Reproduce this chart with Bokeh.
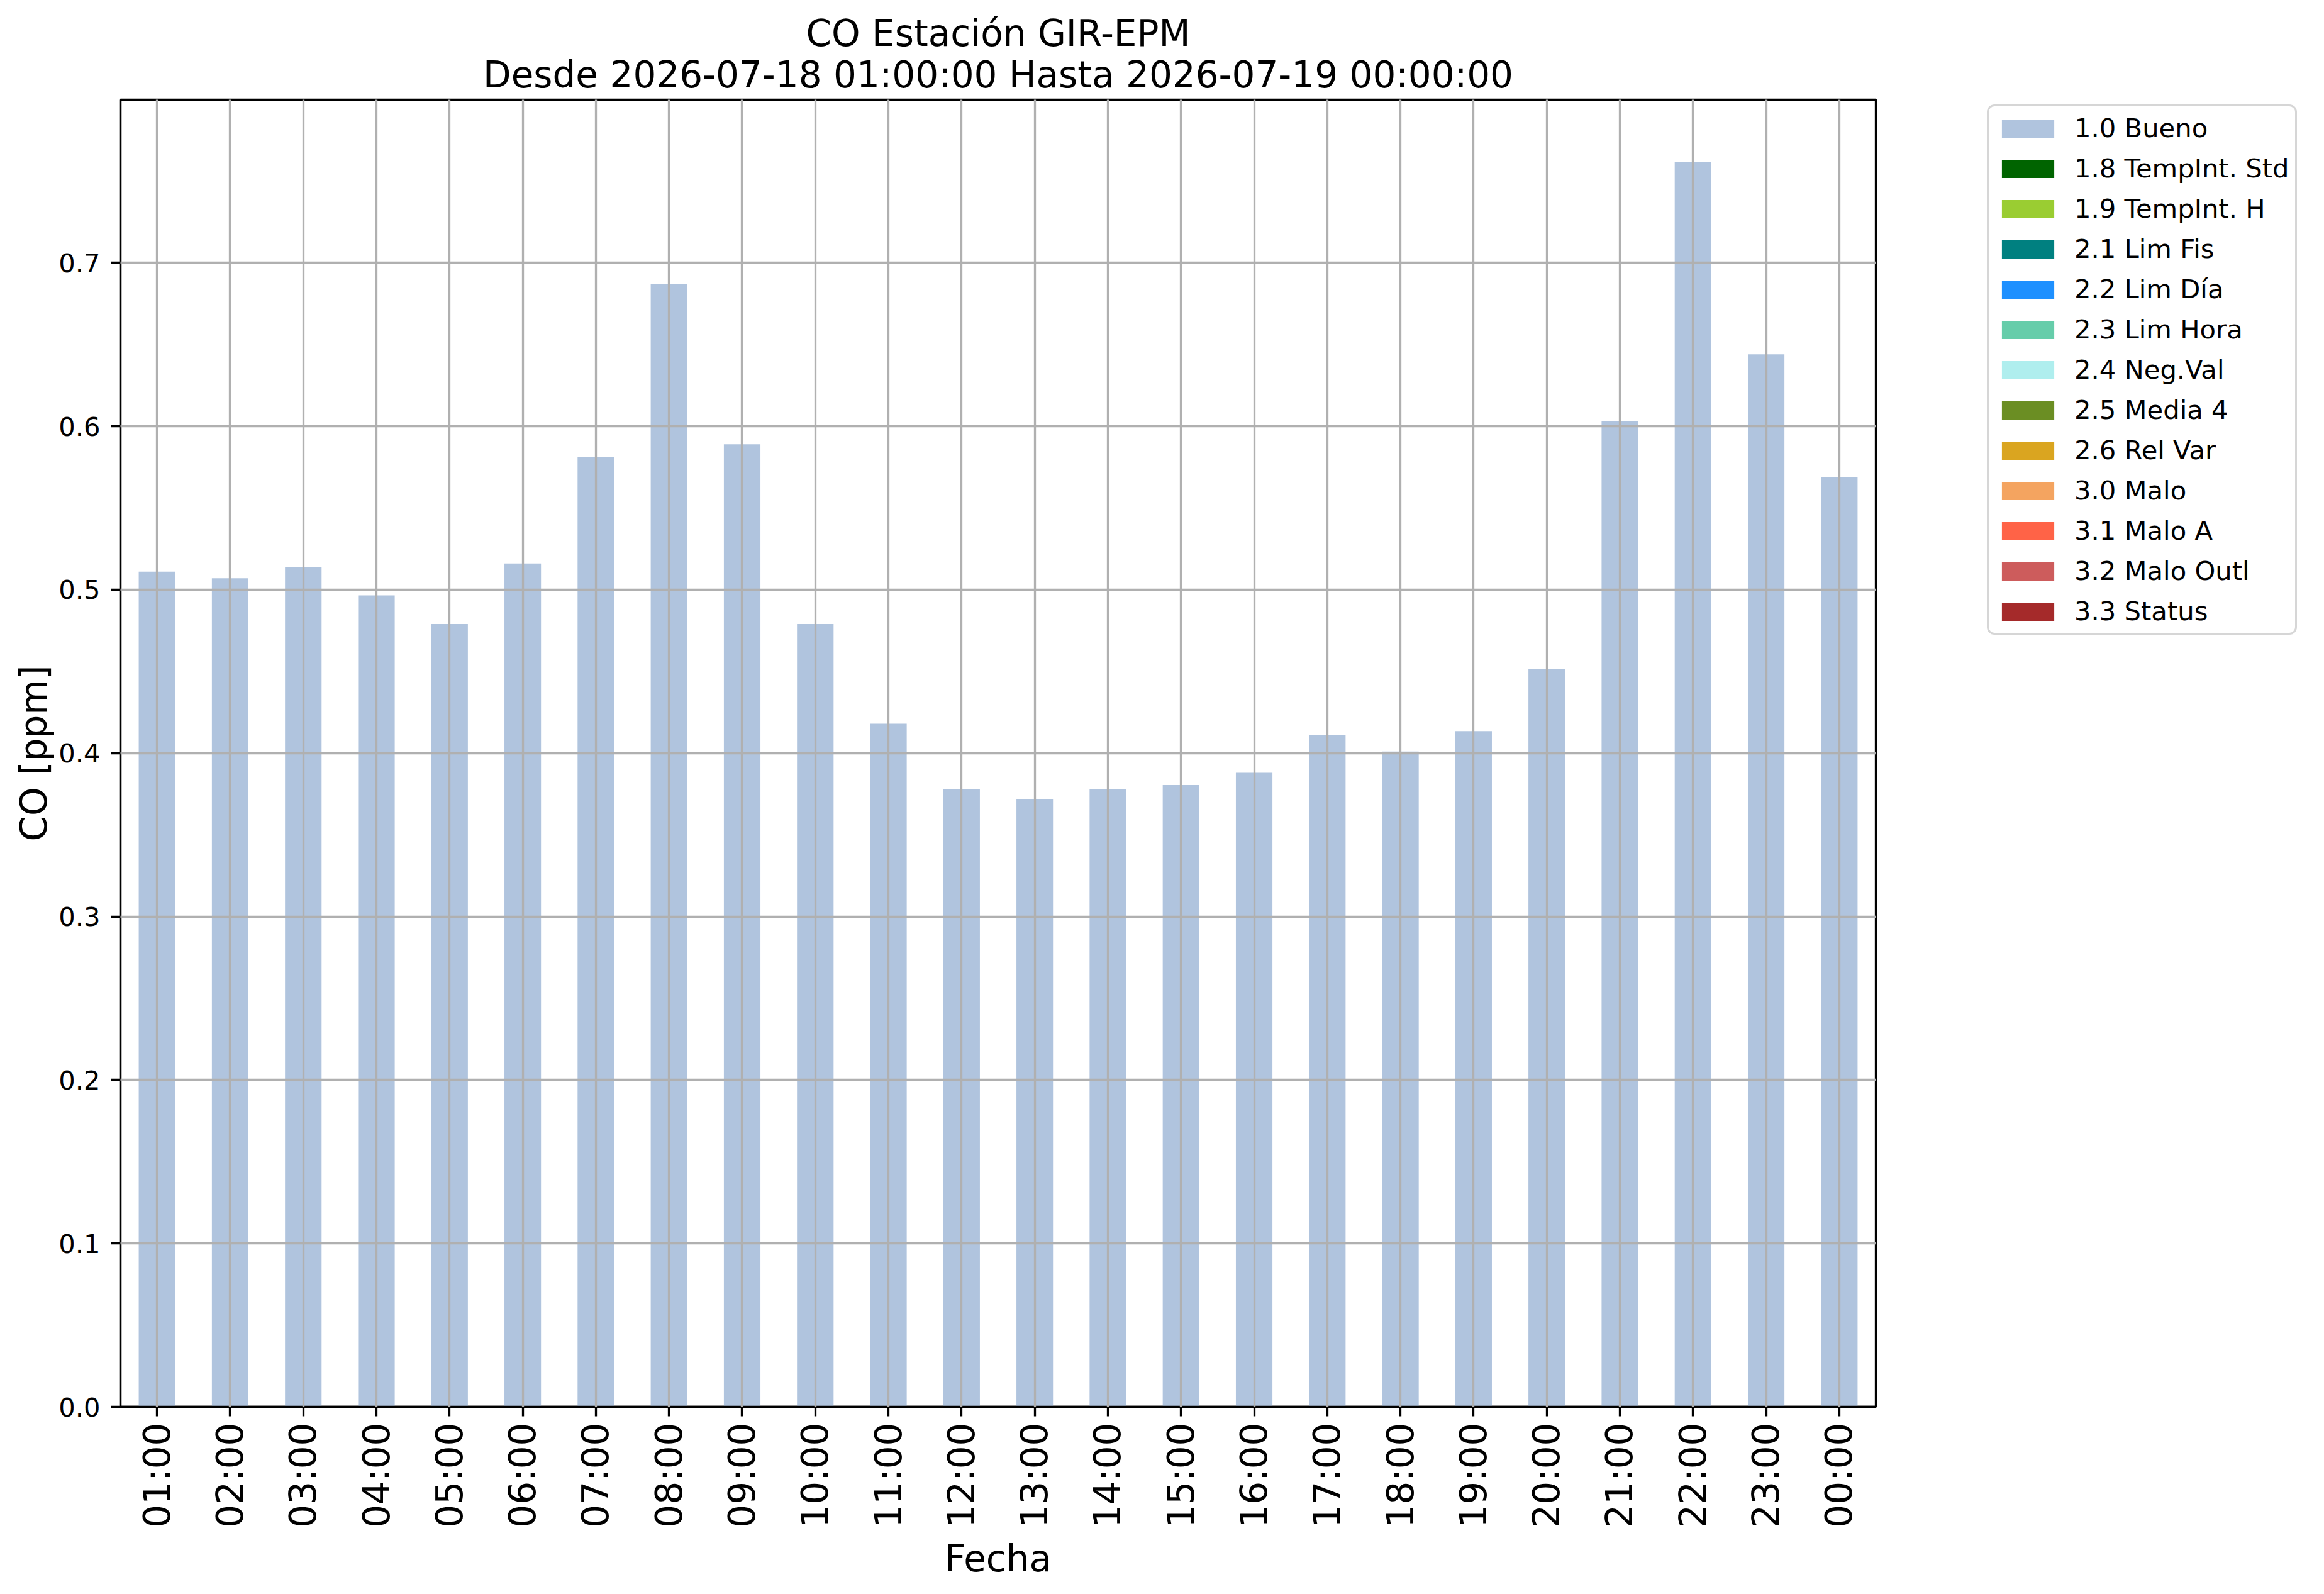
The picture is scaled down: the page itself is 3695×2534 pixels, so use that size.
import math
from bokeh.plotting import figure
from bokeh.layouts import row
from bokeh.models import (FactorRange, Range1d, FixedTicker, PrintfTickFormatter,
                          Title, ColumnDataSource)
from bokeh.embed import file_html
from bokeh.resources import INLINE

# ---------------- data ----------------
hours = ["01:00", "02:00", "03:00", "04:00", "05:00", "06:00", "07:00", "08:00",
         "09:00", "10:00", "11:00", "12:00", "13:00", "14:00", "15:00", "16:00",
         "17:00", "18:00", "19:00", "20:00", "21:00", "22:00", "23:00", "00:00"]

co_bueno = [0.511, 0.507, 0.514, 0.4965, 0.479, 0.516, 0.581, 0.687,
            0.589, 0.479, 0.418, 0.378, 0.372, 0.378, 0.3805, 0.388,
            0.411, 0.401, 0.4135, 0.4515, 0.603, 0.7615, 0.644, 0.569]

flags = ["1.0 Bueno", "1.8 TempInt. Std", "1.9 TempInt. H", "2.1 Lim Fis",
         "2.2 Lim Día", "2.3 Lim Hora", "2.4 Neg.Val", "2.5 Media 4",
         "2.6 Rel Var", "3.0 Malo", "3.1 Malo A", "3.2 Malo Outl", "3.3 Status"]

flag_colors = ["lightsteelblue", "darkgreen", "yellowgreen", "teal", "dodgerblue",
               "mediumaquamarine", "paleturquoise", "olivedrab", "goldenrod",
               "sandybrown", "tomato", "indianred", "brown"]

# every flag other than "1.0 Bueno" has no data in this period
no_data = [0.0] * len(hours)

yticks = [0.0, 0.1, 0.2, 0.3, 0.4, 0.5, 0.6, 0.7]
ymax = 0.7998

title_line1 = "CO Estación GIR-EPM"
title_line2 = "Desde 2026-07-18 01:00:00 Hasta 2026-07-19 00:00:00"

# ---------------- main figure ----------------
FONT = "DejaVu Sans"
TOTAL_W, TOTAL_H = 3679, 2518
MAIN_W = 2984
p = figure(width=MAIN_W, height=TOTAL_H, x_range=FactorRange(factors=hours),
           y_range=Range1d(0, ymax), output_backend="svg", toolbar_location=None,
           min_border_left=191, min_border_right=2, min_border_top=158,
           min_border_bottom=282)

data = {"hours": hours}
for f in flags:
    data[f] = co_bueno if f == "1.0 Bueno" else no_data
src = ColumnDataSource(data)

p.vbar_stack(flags, x="hours", width=0.5, source=src,
             fill_color=flag_colors, line_color=None)

# titles (added titles go closer to the plot)
p.title.text = title_line1
p.title.align = "center"
p.title.text_font = FONT
p.title.text_font_size = "58px"
p.title.text_font_style = "normal"
p.title.text_color = "black"
p.title.standoff = -19
t2 = Title(text=title_line2, align="center", text_font=FONT,
           text_font_size="58px", text_font_style="normal",
           text_color="black", standoff=11)
p.add_layout(t2, "above")

# axes
for ax in (p.xaxis[0], p.yaxis[0]):
    ax.axis_line_color = "black"
    ax.axis_line_width = 3.3
    ax.major_tick_line_color = "black"
    ax.major_tick_line_width = 3.3
    ax.major_tick_out = 15
    ax.major_tick_in = 0
    ax.minor_tick_line_color = None
    ax.major_label_text_font = FONT
    ax.axis_label_text_font = FONT
    ax.axis_label_text_font_style = "normal"
    ax.axis_label_text_font_size = "58px"
    ax.axis_label_text_color = "black"
    ax.major_label_text_color = "black"

p.xaxis.axis_label = "Fecha"
p.xaxis.major_label_orientation = math.pi / 2
p.xaxis.major_label_text_font_size = "58px"
p.xaxis.major_label_standoff = 10
p.xaxis.axis_label_standoff = 12
p.xaxis.group_text_font_size = "0px"

p.yaxis.axis_label = "CO [ppm]"
p.yaxis.ticker = FixedTicker(ticks=yticks)
p.yaxis.formatter = PrintfTickFormatter(format="%.1f")
p.yaxis.major_label_text_font_size = "41.7px"
p.yaxis.major_label_standoff = 17
p.yaxis.axis_label_standoff = 2

# grid drawn above the bars
for g in (p.xgrid[0], p.ygrid[0]):
    g.grid_line_color = "#b0b0b0"
    g.grid_line_width = 3.3
    g.level = "overlay"

p.outline_line_color = "black"
p.outline_line_width = 3.3
p.background_fill_color = "white"
p.border_fill_color = "white"

# ---------------- legend panel (to the right of the axes) ----------------
leg = figure(width=TOTAL_W - MAIN_W, height=TOTAL_H, x_range=Range1d(0, 1),
             y_range=Range1d(0, 1), x_axis_type=None, y_axis_type=None,
             output_backend="svg", toolbar_location=None,
             min_border_left=0, min_border_right=0, min_border_top=0,
             min_border_bottom=0)
leg.outline_line_color = None
leg.background_fill_color = "white"
leg.border_fill_color = "white"
# swatch-only renderers: a zero-height bar kept outside the visible range
for f, c in zip(flags, flag_colors):
    leg.vbar(x=[-1.0], top=no_data[:1], width=0.5, fill_color=c,
             line_color=None, legend_label=f)

lg = leg.legend[0]
lg.location = (175, 1227)
lg.margin = 0
lg.label_text_font = FONT
lg.label_text_font_size = "41.7px"
lg.label_text_color = "black"
lg.glyph_width = 104
lg.glyph_height = 36
lg.label_height = 48
lg.label_standoff = 22
lg.spacing = 15
lg.padding = 10
lg.border_line_color = "#cccccc"
lg.border_line_alpha = 0.8
lg.border_line_width = 3.3
lg.border_radius = 12
lg.background_fill_color = "white"
lg.background_fill_alpha = 0.8

layout = row(p, leg)
open("out.html", "w").write(file_html(layout, INLINE))
